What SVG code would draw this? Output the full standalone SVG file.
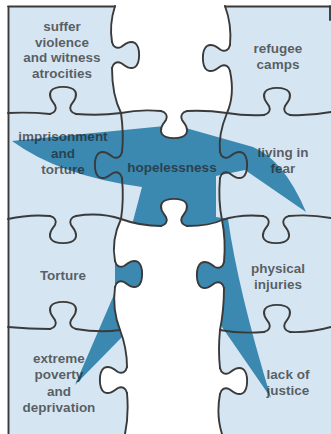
<svg xmlns="http://www.w3.org/2000/svg" width="331" height="434" viewBox="0 0 331 434">
<defs>
<path id="k" d="M-13,0 C-8,-1 -6,-5 -8,-9 C-11,-13 -15,-18 -12,-23 C-8,-28.5 8,-28.5 12,-23 C15,-18 11,-13 8,-9 C6,-5 8,-1 13,0"/>
<path id="kf" d="M-13,0 C-8,-1 -6,-5 -8,-9 C-11,-13 -15,-18 -12,-23 C-8,-28.5 8,-28.5 12,-23 C15,-18 11,-13 8,-9 C6,-5 8,-1 13,0 Z"/>
</defs>
<style>
.seam{fill:none;stroke:#3a3a3a;stroke-width:1.9;stroke-linecap:round;stroke-linejoin:round}
.lt{fill:#d5e5f2}
.dk{fill:#3b88b0}
.wh{fill:#ffffff}
text{font-family:"Liberation Sans",Arial,sans-serif;font-weight:bold;font-size:13.5px;fill:#222222;fill-opacity:0.7;text-anchor:middle}
</style>
<rect width="331" height="434" fill="#ffffff"/>
<g id="fills">
<rect class="lt" x="8" y="6" width="323" height="428"/>
<path class="dk" d="M12,141 L175,125 L253,147 Q284,160 306,212 L245,170 L216,176 L216,217 L228,219 Q238,290 271,398 L222,327 L190,262 L122,337 L75,385 L113,297 L142,187 Q60,176 12,141 Z"/>
<path class="wh" d="M115,0 L115,6 Q109,25 112,42 L112,68 Q112,95 121,113 Q140,109 161,111 L187,111 Q207,110 227,113 Q235,95 230,71 L230,45 Q232,25 225,6 L225,0 Z"/>
<path class="wh" d="M121,219 Q140,226 161,226 L187,226 Q210,226 222,220 Q226,240 224,262 L224,288 Q224,310 220,330 Q218,350 220,368 L220,394 Q216,415 222,434 L125,434 Q129,415 127,393 L127,367 Q127,348 120,330 Q112,310 115,287 L115,261 Q111,240 121,219 Z"/>
<use href="#kf" class="wh" transform="translate(174,111) rotate(180)"/>
<use href="#kf" class="wh" transform="translate(174,226)"/>
<use href="#kf" class="wh" transform="translate(127,380) rotate(-90)"/>
<use href="#kf" class="wh" transform="translate(220,381) rotate(90)"/>
<use href="#kf" class="lt" transform="translate(112,55) rotate(90)"/>
<use href="#kf" class="lt" transform="translate(230,58) rotate(-90)"/>
<use href="#kf" class="dk" transform="translate(115,274) rotate(90)"/>
<use href="#kf" class="dk" transform="translate(224,275) rotate(-90)"/>
</g>
<g id="connectors">
<path class="seam" d="M8.5,6.5 L8.5,434 M8,6.5 L115,6.5 M225,6.5 L331,6.5 M330,6 L330,20"/>
<path class="seam" d="M115,6 Q109,25 112,42 M112,68 Q112,95 121,113 M225,6 Q232,25 230,45 M230,71 Q235,95 227,113"/>
<path class="seam" d="M8,113 Q30,112 50,114 M76,114 Q100,116 121,113 M227,113 Q245,116 264,115 M290,115 Q310,116 331,112"/>
<path class="seam" d="M121,113 Q140,109 161,111 M187,111 Q207,110 227,113"/>
<path class="seam" d="M121,113 Q124,135 122,152 M122,178 Q124,200 121,219 M227,113 Q218,135 220,152 M220,178 Q218,200 222,220"/>
<path class="seam" d="M121,219 Q140,226 161,226 M187,226 Q210,226 222,220"/>
<path class="seam" d="M8,219 Q30,214 50,216 M76,216 Q100,212 121,219 M222,220 Q240,214 263,216 M289,216 Q310,214 331,218"/>
<path class="seam" d="M121,219 Q111,240 115,261 M115,287 Q112,310 120,330 M222,220 Q226,240 224,262 M224,288 Q224,310 220,330"/>
<path class="seam" d="M8,327 Q30,329 50,329 M76,329 Q100,333 120,330 M220,330 Q240,334 264,332 M290,332 Q310,333 331,327"/>
<path class="seam" d="M120,330 Q127,348 127,367 M127,393 Q129,415 125,434 M220,330 Q218,350 220,368 M220,394 Q216,415 222,434"/>
<use href="#k" class="seam" transform="translate(63,114)"/>
<use href="#k" class="seam" transform="translate(112,55) rotate(90)"/>
<use href="#k" class="seam" transform="translate(230,58) rotate(-90)"/>
<use href="#k" class="seam" transform="translate(277,115)"/>
<use href="#k" class="seam" transform="translate(174,111) rotate(180)"/>
<use href="#k" class="seam" transform="translate(122,165) rotate(-90)"/>
<use href="#k" class="seam" transform="translate(220,165) rotate(90)"/>
<use href="#k" class="seam" transform="translate(174,226)"/>
<use href="#k" class="seam" transform="translate(63,216) rotate(180)"/>
<use href="#k" class="seam" transform="translate(276,216) rotate(180)"/>
<use href="#k" class="seam" transform="translate(115,274) rotate(90)"/>
<use href="#k" class="seam" transform="translate(224,275) rotate(-90)"/>
<use href="#k" class="seam" transform="translate(63,329)"/>
<use href="#k" class="seam" transform="translate(277,332)"/>
<use href="#k" class="seam" transform="translate(127,380) rotate(-90)"/>
<use href="#k" class="seam" transform="translate(220,381) rotate(90)"/>
</g>
<g id="suffer"><text x="62" y="31">suffer</text><text x="62" y="46.5">violence</text><text x="62" y="62">and witness</text><text x="62" y="77.5">atrocities</text></g>
<g id="refugee"><text x="278" y="53">refugee</text><text x="278" y="69">camps</text></g>
<g id="imprisonment"><text x="63" y="141">imprisonment</text><text x="63" y="158">and</text><text x="63" y="174">torture</text></g>
<g id="hopelessness"><text x="172" y="172">hopelessness</text></g>
<g id="fear"><text x="283" y="157">living in</text><text x="283" y="173">fear</text></g>
<g id="torture"><text x="63" y="280">Torture</text></g>
<g id="injuries"><text x="278" y="273">physical</text><text x="278" y="289">injuries</text></g>
<g id="poverty"><text x="59" y="363">extreme</text><text x="59" y="379">poverty</text><text x="59" y="396">and</text><text x="59" y="412">deprivation</text></g>
<g id="justice"><text x="288" y="379">lack of</text><text x="288" y="395">justice</text></g>
</svg>
